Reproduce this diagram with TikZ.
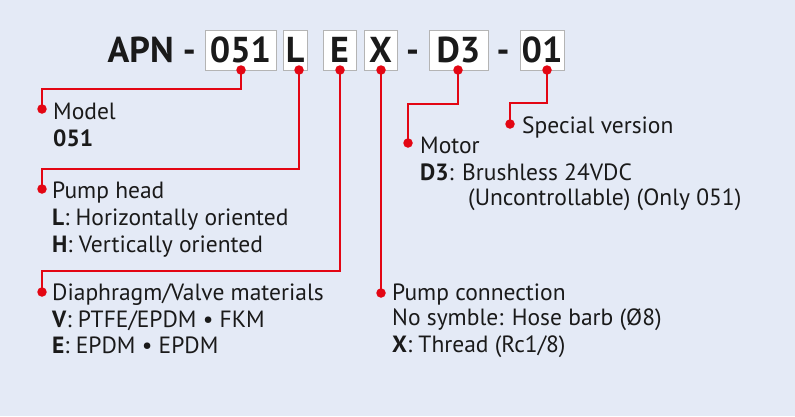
\documentclass[tikz,border=0pt]{standalone}
\usepackage{fontspec}
\setmainfont{PT Sans}
\definecolor{bg}{HTML}{E4EAF6}
\definecolor{rd}{HTML}{E30613}
\definecolor{tx}{HTML}{1A1A1A}
\definecolor{bx}{HTML}{B4B4B4}
\begin{document}
\begin{tikzpicture}[x=1pt,y=-1pt,
  lead/.style={draw=rd,line width=1.2pt},
  dotc/.style={circle,fill=rd,inner sep=0pt,minimum size=9.5pt},
  codebox/.style={draw=bx,fill=white,line width=0.8pt,inner sep=0pt},
  lbl/.style={anchor=base west,inner sep=0pt,text=tx,font=\fontsize{23.5}{28}\selectfont},
  ttl/.style={anchor=base,inner sep=0pt,text=tx,font=\fontsize{36}{40}\selectfont\bfseries}]
\fill[bg] (0,0) rectangle (795,416);
\useasboundingbox (0,0) rectangle (795,416);
% title
\node[ttl,anchor=base east] (apn) at (196,62) {APN -};
\node[codebox,minimum width=71pt,minimum height=40pt] (b1) at (240.5,50) {};
\node[codebox,minimum width=24pt,minimum height=40pt] (b2) at (295,50) {};
\node[codebox,minimum width=33pt,minimum height=40pt] (b3) at (339.5,50) {};
\node[codebox,minimum width=33pt,minimum height=40pt] (b4) at (380.5,50) {};
\node[codebox,minimum width=59pt,minimum height=40pt] (b5) at (458.5,50) {};
\node[codebox,minimum width=44pt,minimum height=40pt] (b6) at (542,50) {};
\node[ttl] (t1) at (240.5,62) {051};
\node[ttl] (t2) at (295,62) {L};
\node[ttl] (t3) at (339.5,62) {E};
\node[ttl] (t4) at (380.5,62) {X};
\node[ttl] (d1) at (412.5,62) {-};
\node[ttl] (t5) at (458.5,62) {D3};
\node[ttl] (d2) at (503,62) {-};
\node[ttl] (t6) at (542,62) {01};
% dots on boxes
\node[dotc] (s1) at (241,70) {};
\node[dotc] (s2) at (299,70) {};
\node[dotc] (s3) at (340,70) {};
\node[dotc] (s4) at (381,70) {};
\node[dotc] (s5) at (458,70) {};
\node[dotc] (s6) at (547,70) {};
% end dots
\node[dotc] (e1) at (42,109) {};
\node[dotc] (e2) at (42,189) {};
\node[dotc] (e3) at (42,292) {};
\node[dotc] (e4) at (381,293) {};
\node[dotc] (e5) at (408,143) {};
\node[dotc] (e6) at (510,124) {};
% leaders
\draw[lead] (s1.center) |- (42,89) -- (e1.center);
\draw[lead] (s2.center) |- (42,169) -- (e2.center);
\draw[lead] (s3.center) |- (42,271) -- (e3.center);
\draw[lead] (s4.center) -- (e4.center);
\draw[lead] (s5.center) |- (408,104) -- (e5.center);
\draw[lead] (s6.center) |- (510,103) -- (e6.center);
% labels
\node[lbl] (m1) at (53,119) {Model};
\node[lbl] (m2) at (53,146) {\bfseries 051};
\node[lbl] (p1) at (52,198) {Pump head};
\node[lbl] (p2) at (52,225) {\textbf{L}: Horizontally oriented};
\node[lbl] (p3) at (52,252) {\textbf{H}: Vertically oriented};
\node[lbl] (v1) at (52,300) {Diaphragm/Valve materials};
\node[lbl] (v2) at (52,327) {\textbf{V}: PTFE/EPDM • FKM};
\node[lbl] (v3) at (52,353) {\textbf{E}: EPDM • EPDM};
\node[lbl] (c1) at (392,300) {Pump connection};
\node[lbl] (c2) at (392,325) {No symble: Hose barb (Ø8)};
\node[lbl] (c3) at (392,352) {\textbf{X}: Thread (Rc1/8)};
\node[lbl] (o1) at (420,153) {Motor};
\node[lbl] (o2) at (420,180) {\textbf{D3}: Brushless 24VDC};
\node[lbl] (o3) at (468,205) {(Uncontrollable) (Only 051)};
\node[lbl] (sv) at (522,133) {Special version};
\end{tikzpicture}
\end{document}
